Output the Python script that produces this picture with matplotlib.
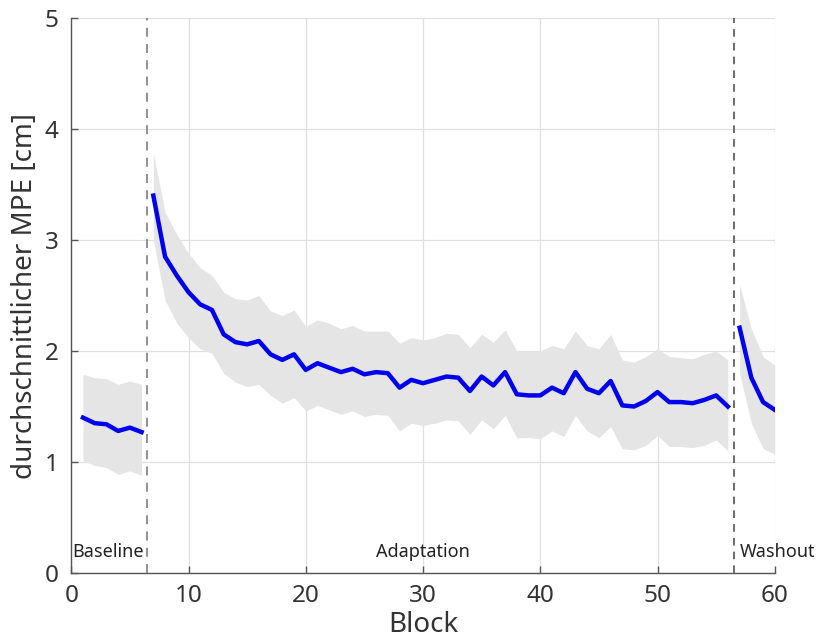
import numpy as np
import matplotlib
matplotlib.use("Agg")
import matplotlib.pyplot as plt

plt.rcParams['font.family'] = ['Noto Sans', 'DejaVu Sans']

# Baseline blocks 1-6
base_x = [1, 2, 3, 4, 5, 6]
base_mean = [1.40, 1.35, 1.34, 1.28, 1.31, 1.27]
base_upper = [1.79, 1.76, 1.75, 1.70, 1.73, 1.70]
base_lower = [1.01, 0.97, 0.95, 0.89, 0.92, 0.88]

# Adaptation blocks 7-56
adapt_x = list(range(7, 57))
adapt_mean = [3.40, 2.85, 2.68, 2.53, 2.42, 2.37, 2.15, 2.08, 2.06, 2.09,
              1.97, 1.92, 1.97, 1.83, 1.89, 1.85, 1.81, 1.84, 1.79, 1.81,
              1.80, 1.67, 1.74, 1.71, 1.74, 1.77, 1.76, 1.64, 1.77, 1.69,
              1.81, 1.61, 1.60, 1.60, 1.67, 1.62, 1.81, 1.66, 1.62, 1.73,
              1.51, 1.50, 1.55, 1.63, 1.54, 1.54, 1.53, 1.56, 1.60, 1.50]
adapt_upper = [3.78, 3.25, 3.05, 2.88, 2.75, 2.68, 2.53, 2.47, 2.46, 2.50,
               2.36, 2.32, 2.37, 2.22, 2.28, 2.25, 2.20, 2.23, 2.18, 2.18,
               2.18, 2.07, 2.12, 2.10, 2.12, 2.16, 2.15, 2.03, 2.15, 2.08,
               2.19, 2.00, 2.00, 2.00, 2.05, 2.02, 2.18, 2.05, 2.02, 2.15,
               1.92, 1.90, 1.95, 2.02, 1.95, 1.94, 1.93, 1.97, 2.00, 1.92]
adapt_lower = [3.00, 2.46, 2.25, 2.12, 2.02, 1.98, 1.80, 1.72, 1.68, 1.70,
               1.60, 1.53, 1.58, 1.46, 1.51, 1.47, 1.43, 1.46, 1.41, 1.43,
               1.42, 1.28, 1.35, 1.33, 1.35, 1.38, 1.37, 1.25, 1.38, 1.30,
               1.42, 1.22, 1.22, 1.21, 1.28, 1.23, 1.42, 1.28, 1.22, 1.32,
               1.12, 1.11, 1.15, 1.24, 1.14, 1.14, 1.13, 1.15, 1.20, 1.10]

# Washout blocks 57-60
wash_x = [57, 58, 59, 60]
wash_mean = [2.21, 1.76, 1.54, 1.47]
wash_upper = [2.60, 2.20, 1.95, 1.87]
wash_lower = [1.80, 1.35, 1.12, 1.07]

phase_labels = ["Baseline", "Adaptation", "Washout"]
phase_label_x = [3.15, 30.0, 60.2]
phase_bounds = [6.5, 56.5]

fig = plt.figure(figsize=(8.19, 6.41), dpi=100)
ax = fig.add_axes([0.087, 0.106, 0.859, 0.866])

for xs, m, lo, up in [(base_x, base_mean, base_lower, base_upper),
                      (adapt_x, adapt_mean, adapt_lower, adapt_upper),
                      (wash_x, wash_mean, wash_lower, wash_upper)]:
    ax.fill_between(xs, lo, up, color='#e5e5e5', linewidth=0, zorder=2)
    ax.plot(xs, m, color='#0000ee', linewidth=3.2, zorder=3)

ax.axvline(phase_bounds[0], color='#888888', linestyle=(0, (5, 4)), linewidth=1.3, zorder=2.5)
ax.axvline(phase_bounds[1], color='#444444', linestyle=(0, (5, 4)), linewidth=1.1, zorder=2.5)

for lab, xp in zip(phase_labels, phase_label_x):
    ax.text(xp, 0.19, lab, ha='center', va='center', fontsize=13, color='#222222',
            zorder=4, clip_on=False)

ax.set_xlim(0, 60)
ax.set_ylim(0, 5)
ax.set_xticks([0, 10, 20, 30, 40, 50, 60])
ax.set_yticks([0, 1, 2, 3, 4, 5])
ax.grid(True, color='#e0e0e0', linewidth=0.9, zorder=0)
ax.set_axisbelow(True)
for s in ['top', 'right']:
    ax.spines[s].set_visible(False)
for s in ['left', 'bottom']:
    ax.spines[s].set_color('#555555')
    ax.spines[s].set_linewidth(1.0)
ax.tick_params(direction='in', length=5, width=1, colors='#555555', labelsize=17.5, labelcolor='#333333')
ax.tick_params(axis='x', pad=8)
ax.tick_params(axis='y', pad=9)
ax.set_xlabel('Block', fontsize=20, color='#333333', labelpad=2)
ax.set_ylabel('durchschnittlicher MPE [cm]', fontsize=20, color='#333333', labelpad=4)

fig.savefig('out.png', dpi=100)
